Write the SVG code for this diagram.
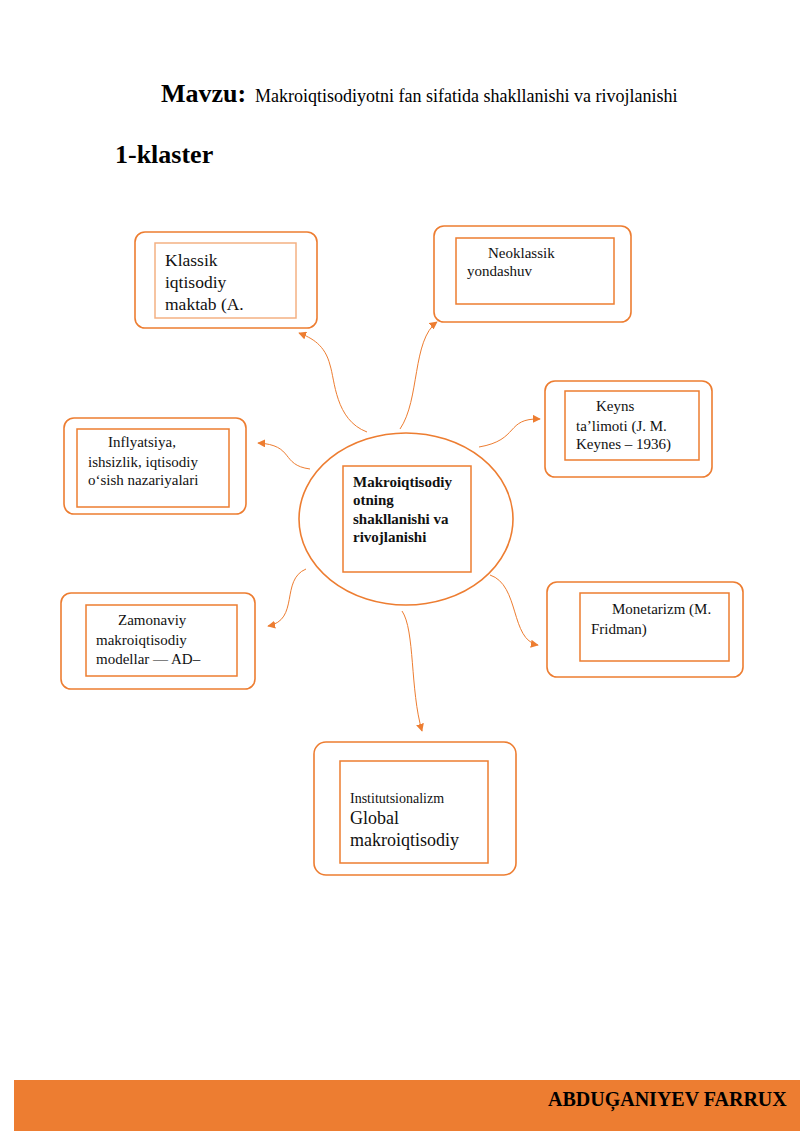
<svg xmlns="http://www.w3.org/2000/svg" width="800" height="1131" viewBox="0 0 800 1131">
<defs>
<style>
.o{fill:#fff;stroke:#ed7d31;stroke-width:1.6}
.i{fill:#fff;stroke:#ed7d31;stroke-width:1.5}
.t{font-family:"Liberation Serif",serif;fill:#111}
.s{font-family:"Liberation Serif",serif;fill:#000}
.c{fill:none;stroke:#ed7d31;stroke-width:1}
</style>
<marker id="a" viewBox="0 0 10 10" refX="9" refY="5" markerWidth="8" markerHeight="8" orient="auto" markerUnits="userSpaceOnUse"><path d="M0,0L10,5L0,10z" fill="#ed7d31"/></marker>
</defs>
<rect width="800" height="1131" fill="#fff"/>
<text class="s" x="161" y="102" style="font-size:26px;font-weight:bold">Mavzu:</text>
<text class="s" x="255" y="102" style="font-size:18px">Makroiqtisodiyotni fan sifatida shakllanishi va rivojlanishi</text>
<text class="s" x="115" y="163" style="font-size:26px;font-weight:bold">1-klaster</text>
<g id="connectors">
<path class="c" marker-end="url(#a)" d="M367,432 C335,420 335,380 330,365 C325,345 312,338 299,333"/>
<path class="c" marker-end="url(#a)" d="M400,429 C420,400 412,340 437,322"/>
<path class="c" marker-end="url(#a)" d="M479,447 C520,440 505,418 540,419"/>
<path class="c" marker-end="url(#a)" d="M310,469 C280,465 295,445 258,443"/>
<path class="c" marker-end="url(#a)" d="M306,569 C280,580 300,620 268,626"/>
<path class="c" marker-end="url(#a)" d="M490,575 C520,585 510,640 538,645"/>
<path class="c" marker-end="url(#a)" d="M402,611 C415,630 410,690 422,731"/>
</g>
<g id="center">
<ellipse class="o" cx="406" cy="519" rx="107" ry="86"/>
<rect class="i" x="343" y="466" width="128" height="106"/>
<text class="t" style="font-size:15px;font-weight:bold"><tspan x="353" y="487">Makroiqtisodiy</tspan><tspan x="353" y="505">otning</tspan><tspan x="353" y="524">shakllanishi va</tspan><tspan x="353" y="542">rivojlanishi</tspan></text>
</g>
<g id="klassik">
<rect class="o" x="135" y="232" width="182" height="96" rx="10"/>
<rect x="155" y="243" width="141" height="75" fill="#fff" stroke="#f4b183" stroke-width="1.5"/>
<text class="t" style="font-size:17.5px"><tspan x="165" y="266">Klassik</tspan><tspan x="165" y="288">iqtisodiy</tspan><tspan x="165" y="310">maktab (A.</tspan></text>
</g>
<g id="neoklassik">
<rect class="o" x="434" y="226" width="197" height="96" rx="10"/>
<rect class="i" x="456" y="238" width="158" height="66"/>
<text class="t" style="font-size:15px"><tspan x="488" y="258">Neoklassik</tspan><tspan x="467" y="276">yondashuv</tspan></text>
</g>
<g id="keyns">
<rect class="o" x="545" y="381" width="167" height="96" rx="10"/>
<rect class="i" x="565" y="391" width="134" height="69"/>
<text class="t" style="font-size:15px"><tspan x="596" y="411">Keyns</tspan><tspan x="576" y="431">ta’limoti (J. M.</tspan><tspan x="576" y="449">Keynes – 1936)</tspan></text>
</g>
<g id="inflyatsiya">
<rect class="o" x="64" y="418" width="182" height="96" rx="10"/>
<rect class="i" x="77" y="429" width="152" height="78"/>
<text class="t" style="font-size:15px"><tspan x="108" y="447">Inflyatsiya,</tspan><tspan x="88" y="467">ishsizlik, iqtisodiy</tspan><tspan x="88" y="485">o‘sish nazariyalari</tspan></text>
</g>
<g id="zamonaviy">
<rect class="o" x="61" y="593" width="194" height="96" rx="10"/>
<rect class="i" x="86" y="605" width="151" height="71"/>
<text class="t" style="font-size:15px"><tspan x="118" y="625">Zamonaviy</tspan><tspan x="96" y="645">makroiqtisodiy</tspan><tspan x="96" y="664">modellar — AD–</tspan></text>
</g>
<g id="monetarizm">
<rect class="o" x="547" y="582" width="196" height="95" rx="10"/>
<rect class="i" x="580" y="593" width="149" height="68"/>
<text class="t" style="font-size:15px"><tspan x="612" y="614">Monetarizm (M.</tspan><tspan x="591" y="634">Fridman)</tspan></text>
</g>
<g id="institutsionalizm">
<rect class="o" x="314" y="742" width="202" height="133" rx="12"/>
<rect class="i" x="340" y="761" width="148" height="102"/>
<text class="t" x="350" y="803" style="font-size:14px">Institutsionalizm</text>
<text class="t" style="font-size:18px"><tspan x="350" y="824">Global</tspan><tspan x="350" y="846">makroiqtisodiy</tspan></text>
</g>
<rect x="14" y="1080" width="786" height="51" fill="#ed7d31"/>
<text class="s" x="548" y="1106" style="font-size:20px;font-weight:bold">ABDUĢANIYEV FARRUX</text>
</svg>
